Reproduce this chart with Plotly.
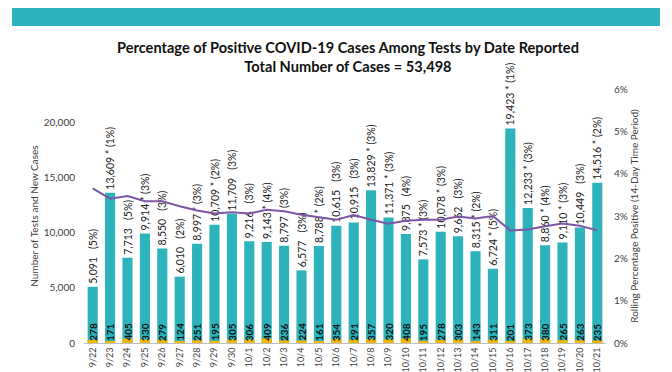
import plotly.graph_objects as go

dates = ["9/22","9/23","9/24","9/25","9/26","9/27","9/28","9/29","9/30","10/1",
         "10/2","10/3","10/4","10/5","10/6","10/7","10/8","10/9","10/10","10/11",
         "10/12","10/13","10/14","10/15","10/16","10/17","10/18","10/19","10/20","10/21"]
tests = [5091,13609,7713,9914,8550,6010,8997,10709,11709,9216,
         9143,8797,6577,8788,10615,10915,13829,11371,9875,7573,
         10078,9662,8315,6724,19423,12233,8860,9110,10449,14516]
cases = [278,171,405,330,279,124,251,195,305,306,
         409,236,224,161,354,291,357,320,408,195,
         278,303,143,311,201,373,380,265,263,235]
daily_pct = [5,1,5,3,3,2,3,2,3,3,
             4,3,3,2,3,3,3,3,4,3,
             3,3,2,5,1,3,4,3,3,2]
starred = [0,1,0,1,0,0,1,1,0,0,
           1,0,0,1,0,0,1,1,0,1,
           1,0,1,1,1,1,1,1,0,1]
rolling_pct = [3.65,3.41,3.47,3.35,3.35,3.23,3.13,3.06,3.09,3.06,
               3.15,3.11,3.03,2.97,2.91,3.02,2.91,2.82,2.89,2.91,
               2.91,2.99,2.94,3.00,2.66,2.68,2.76,2.82,2.77,2.66]
left_ticks = [0,5000,10000,15000,20000]
right_ticks = [0,1,2,3,4,5,6]

FONT = "Lato"
TEAL = "#2cb3bb"
GOLD = "#f2b705"
PURPLE = "#7d55a6"

top_labels = [f"{t:,}{' *' if s else '  '} ({p}%)" for t, s, p in zip(tests, starred, daily_pct)]

fig = go.Figure()
fig.add_trace(go.Bar(
    x=dates, y=tests, marker_color=TEAL, marker_line_width=0,
    text=top_labels, textposition="outside", textangle=-90,
    textfont=dict(family=FONT, size=10.5, color="#222222"),
    cliponaxis=False, hoverinfo="skip", name="Tests"))
fig.add_trace(go.Bar(
    x=dates, y=cases, marker_color=GOLD, marker_line_width=0,
    hoverinfo="skip", name="Cases"))
fig.add_trace(go.Scatter(
    x=dates, y=[v / 100 for v in rolling_pct], yaxis="y2", mode="lines",
    line=dict(color=PURPLE, width=2), hoverinfo="skip", name="Rolling"))

for d, c in zip(dates, cases):
    fig.add_annotation(x=d, y=0, xref="x", yref="y", text=f"<b>{c}</b>",
                       textangle=-90, showarrow=False, yanchor="bottom",
                       yshift=0, font=dict(family=FONT, size=10, color="#111111"))

# top banner (paper coords: plot area spans figure pixel y 81..335)
fig.add_shape(type="rect", xref="paper", yref="paper",
              x0=-72/522, x1=576/522, y0=(335-18)/254, y1=(335+2)/254,
              fillcolor=TEAL, line_width=0, layer="below")

fig.update_layout(
    width=664, height=364,
    margin=dict(l=76, r=66, t=81, b=29, autoexpand=False),
    paper_bgcolor="white", plot_bgcolor="white",
    barmode="overlay", bargap=0.42, showlegend=False,
    uniformtext=dict(minsize=9, mode="show"),
    font=dict(family=FONT, color="#404040"),
    title=dict(
        text="<b>Percentage of Positive COVID-19 Cases Among Tests by Date Reported<br>Total Number of Cases = 53,498</b>",
        x=0.512, xanchor="center", y=0.876, yanchor="middle",
        font=dict(family=FONT, size=14.6, color="#111111")),
    xaxis=dict(type="category", tickangle=-90, showline=True, linecolor="#bfbfbf",
               linewidth=1, ticks="", tickfont=dict(size=9, color="#404040"),
               showgrid=False, automargin=False),
    yaxis=dict(range=[0, 23000], tickvals=left_ticks, tickformat=",",
               showgrid=False, zeroline=False, showline=False, automargin=False,
               ticklabelstandoff=8,
               tickfont=dict(size=10, color="#404040"),
               title=dict(text="Number of Tests and New Cases",
                          font=dict(size=10, color="#404040"), standoff=3)),
    yaxis2=dict(range=[0, 0.06], tickvals=[v / 100 for v in right_ticks],
                tickformat=".0%", overlaying="y", side="right", automargin=False,
                ticklabelstandoff=7,
                showgrid=False, zeroline=False, showline=False,
                tickfont=dict(size=10, color="#404040"),
                title=dict(text="Rolling Percentage Positive (14-Day Time Period)",
                           font=dict(size=10, color="#404040"), standoff=3)),
)

fig.write_html("out.html")
